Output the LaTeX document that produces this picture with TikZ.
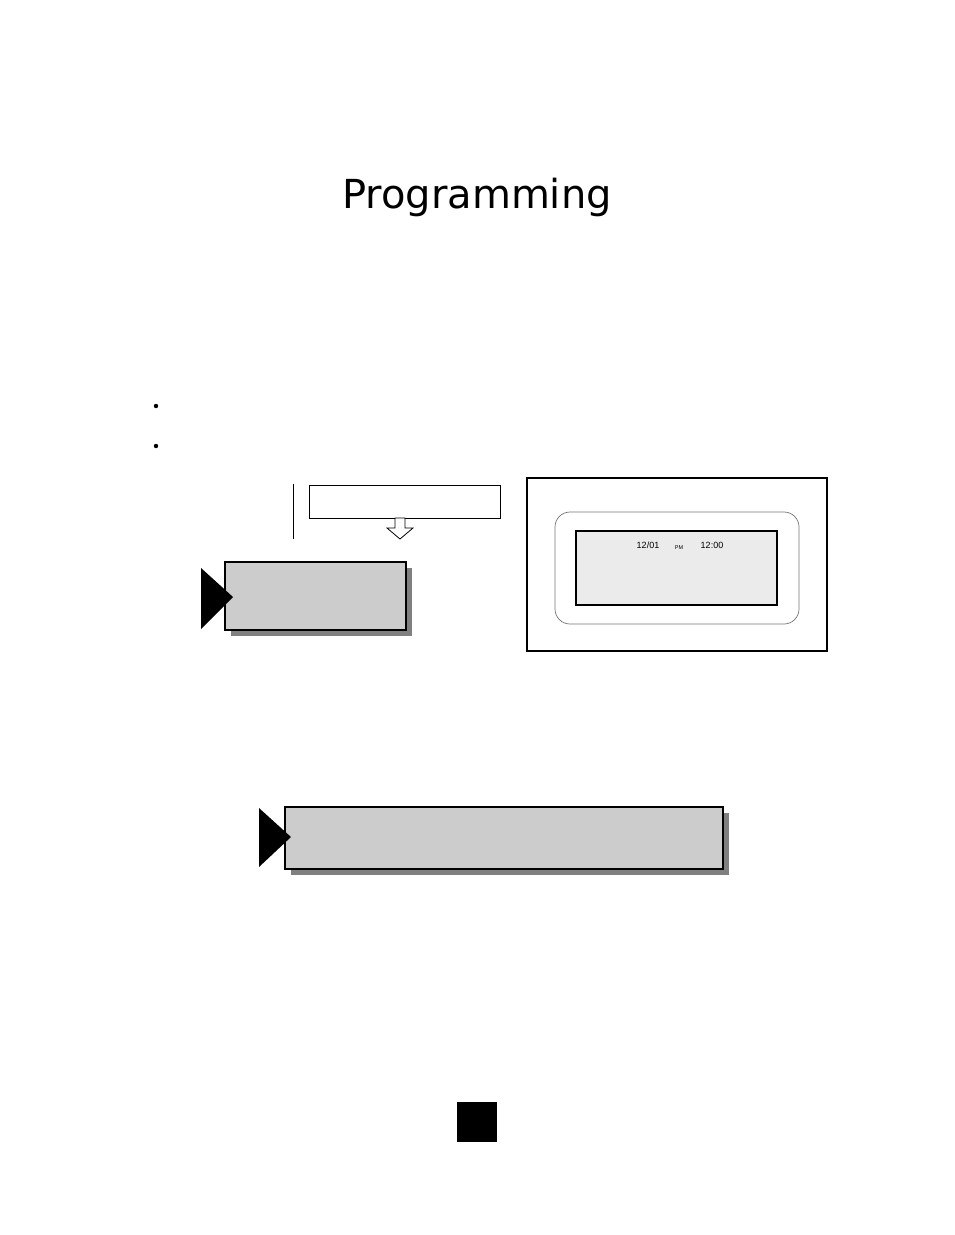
\documentclass[tikz,border=0pt]{standalone}
\usepackage{fontspec}
\setmainfont{DejaVu Sans}
\newfontfamily\arialf{Liberation Sans}
\begin{document}
\begin{tikzpicture}[x=1pt,y=-1pt,
  shadowbox/.style={fill=black!50,draw=none},
  graybox/.style={draw=black,line width=1.2pt,fill=black!20},
  lcdtxt/.style={font=\arialf\fontsize{9}{10}\selectfont,inner sep=0pt}]
\path[use as bounding box] (0,0) rectangle (954,1235);
\node (title) at (477,197) {\fontsize{40}{44}\selectfont Programming};
\fill (156,406) circle (2.2);
\fill (156,446) circle (2.2);
\draw[line width=0.8pt] (293,484) -- (293,539);
\node[draw,line width=1pt,minimum width=191pt,minimum height=33pt,inner sep=0pt] (top) at (404.5,501.5) {};
\draw[line width=0.8pt,fill=white] (395,518) -- (405,518) -- (405,528) -- (413,528) -- (400,539) -- (387,528) -- (395,528) -- cycle;
\fill[shadowbox] (231,568) rectangle (412,636);
\node[graybox,minimum width=181pt,minimum height=68pt,inner sep=0pt] (b1) at (315.5,596) {};
\fill (201,568) -- (233,597) -- (201,629) -- cycle;
\node[draw,line width=1.2pt,minimum width=300pt,minimum height=173pt,inner sep=0pt] (frame) at (677,564.5) {};
\draw[black!55,line width=0.7pt,rounded corners=15pt] (555,512) rectangle (799,624);
\node[draw,line width=1.2pt,fill=black!8,minimum width=201pt,minimum height=74pt,inner sep=0pt] (lcd) at (676.5,568) {};
\node[lcdtxt] (d) at (648,545) {12/01};
\node[lcdtxt,font=\arialf\fontsize{5.5}{6}\selectfont] (pm) at (679,548) {PM};
\node[lcdtxt] (t) at (712,545) {12:00};
\fill[shadowbox] (291,813) rectangle (729,875);
\node[graybox,minimum width=438pt,minimum height=62pt,inner sep=0pt] (b2) at (504,838) {};
\fill (259,808) -- (291,837) -- (259,867) -- cycle;
\fill (457,1102) rectangle (497,1142);
\end{tikzpicture}
\end{document}
